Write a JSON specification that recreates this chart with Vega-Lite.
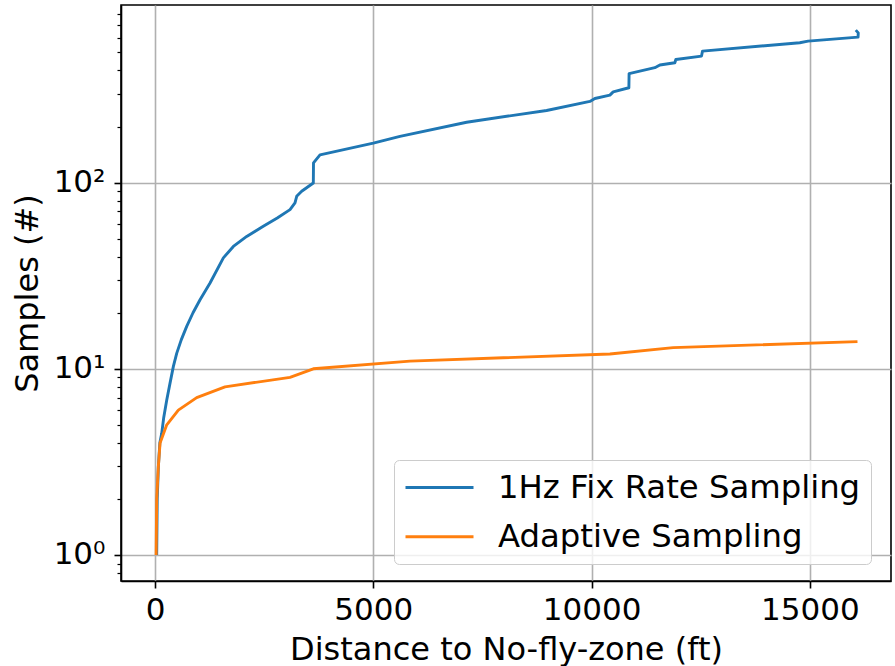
{
  "$schema": "https://vega.github.io/schema/vega-lite/v6.json",
  "width": 770,
  "height": 576,
  "autosize": {"type": "none"},
  "padding": {"left": 121, "top": 5, "right": 4, "bottom": 85},
  "background": "white",
  "config": {
    "font": "DejaVu Sans",
    "view": {"stroke": "black", "strokeWidth": 1.6},
    "axis": {
      "labelFont": "DejaVu Sans",
      "titleFont": "DejaVu Sans",
      "labelColor": "black",
      "titleColor": "black",
      "titleFontWeight": "normal",
      "domainColor": "black",
      "domainWidth": 1.6,
      "tickColor": "black",
      "gridColor": "#b0b0b0",
      "gridWidth": 1.6
    }
  },
  "data": {
    "values": [
      {"method": "1Hz Fix Rate Sampling", "distance": 38, "samples": 1},
      {"method": "1Hz Fix Rate Sampling", "distance": 50, "samples": 2},
      {"method": "1Hz Fix Rate Sampling", "distance": 76, "samples": 2.98},
      {"method": "1Hz Fix Rate Sampling", "distance": 110, "samples": 4},
      {"method": "1Hz Fix Rate Sampling", "distance": 153, "samples": 4.5},
      {"method": "1Hz Fix Rate Sampling", "distance": 200, "samples": 5.5},
      {"method": "1Hz Fix Rate Sampling", "distance": 268, "samples": 6.8},
      {"method": "1Hz Fix Rate Sampling", "distance": 340, "samples": 8.3},
      {"method": "1Hz Fix Rate Sampling", "distance": 420, "samples": 10.3},
      {"method": "1Hz Fix Rate Sampling", "distance": 496, "samples": 12.1},
      {"method": "1Hz Fix Rate Sampling", "distance": 600, "samples": 14.3},
      {"method": "1Hz Fix Rate Sampling", "distance": 725, "samples": 16.9},
      {"method": "1Hz Fix Rate Sampling", "distance": 870, "samples": 20},
      {"method": "1Hz Fix Rate Sampling", "distance": 1031, "samples": 23.5},
      {"method": "1Hz Fix Rate Sampling", "distance": 1260, "samples": 28.9},
      {"method": "1Hz Fix Rate Sampling", "distance": 1565, "samples": 39.4},
      {"method": "1Hz Fix Rate Sampling", "distance": 1794, "samples": 45.4},
      {"method": "1Hz Fix Rate Sampling", "distance": 2100, "samples": 51.4},
      {"method": "1Hz Fix Rate Sampling", "distance": 2480, "samples": 58.2},
      {"method": "1Hz Fix Rate Sampling", "distance": 2800, "samples": 64.5},
      {"method": "1Hz Fix Rate Sampling", "distance": 3092, "samples": 71.6},
      {"method": "1Hz Fix Rate Sampling", "distance": 3206, "samples": 77.8},
      {"method": "1Hz Fix Rate Sampling", "distance": 3245, "samples": 84.4},
      {"method": "1Hz Fix Rate Sampling", "distance": 3359, "samples": 89.8},
      {"method": "1Hz Fix Rate Sampling", "distance": 3626, "samples": 99.5},
      {"method": "1Hz Fix Rate Sampling", "distance": 3630, "samples": 127.6},
      {"method": "1Hz Fix Rate Sampling", "distance": 3779, "samples": 141},
      {"method": "1Hz Fix Rate Sampling", "distance": 5000, "samples": 163},
      {"method": "1Hz Fix Rate Sampling", "distance": 5611, "samples": 177},
      {"method": "1Hz Fix Rate Sampling", "distance": 7138, "samples": 211},
      {"method": "1Hz Fix Rate Sampling", "distance": 8970, "samples": 244},
      {"method": "1Hz Fix Rate Sampling", "distance": 9962, "samples": 273},
      {"method": "1Hz Fix Rate Sampling", "distance": 10076, "samples": 283},
      {"method": "1Hz Fix Rate Sampling", "distance": 10420, "samples": 295},
      {"method": "1Hz Fix Rate Sampling", "distance": 10496, "samples": 307},
      {"method": "1Hz Fix Rate Sampling", "distance": 10855, "samples": 323},
      {"method": "1Hz Fix Rate Sampling", "distance": 10860, "samples": 385},
      {"method": "1Hz Fix Rate Sampling", "distance": 11450, "samples": 414},
      {"method": "1Hz Fix Rate Sampling", "distance": 11565, "samples": 428},
      {"method": "1Hz Fix Rate Sampling", "distance": 11908, "samples": 440},
      {"method": "1Hz Fix Rate Sampling", "distance": 11931, "samples": 458},
      {"method": "1Hz Fix Rate Sampling", "distance": 12519, "samples": 478},
      {"method": "1Hz Fix Rate Sampling", "distance": 12542, "samples": 508},
      {"method": "1Hz Fix Rate Sampling", "distance": 14770, "samples": 564},
      {"method": "1Hz Fix Rate Sampling", "distance": 14960, "samples": 575},
      {"method": "1Hz Fix Rate Sampling", "distance": 16105, "samples": 604},
      {"method": "1Hz Fix Rate Sampling", "distance": 16110, "samples": 637},
      {"method": "1Hz Fix Rate Sampling", "distance": 16053, "samples": 659},
      {"method": "Adaptive Sampling", "distance": 25, "samples": 1},
      {"method": "Adaptive Sampling", "distance": 38, "samples": 2},
      {"method": "Adaptive Sampling", "distance": 76, "samples": 3},
      {"method": "Adaptive Sampling", "distance": 115, "samples": 4},
      {"method": "Adaptive Sampling", "distance": 268, "samples": 5},
      {"method": "Adaptive Sampling", "distance": 534, "samples": 6},
      {"method": "Adaptive Sampling", "distance": 954, "samples": 7},
      {"method": "Adaptive Sampling", "distance": 1603, "samples": 8},
      {"method": "Adaptive Sampling", "distance": 3092, "samples": 9},
      {"method": "Adaptive Sampling", "distance": 3626, "samples": 10},
      {"method": "Adaptive Sampling", "distance": 5840, "samples": 11},
      {"method": "Adaptive Sampling", "distance": 10420, "samples": 12},
      {"method": "Adaptive Sampling", "distance": 11870, "samples": 13},
      {"method": "Adaptive Sampling", "distance": 16092, "samples": 14}
    ]
  },
  "mark": {"type": "line", "strokeWidth": 2.9, "strokeJoin": "round", "clip": true},
  "encoding": {
    "x": {
      "field": "distance",
      "type": "quantitative",
      "scale": {"domain": [-780, 16860], "nice": false, "zero": false},
      "axis": {
        "values": [0, 5000, 10000, 15000],
        "format": "d",
        "labelFontSize": 31,
        "tickSize": 7,
        "tickWidth": 1.6,
        "labelPadding": 7,
        "title": "Distance to No-fly-zone (ft)",
        "titleFontSize": 32,
        "titlePadding": 9
      }
    },
    "y": {
      "field": "samples",
      "type": "quantitative",
      "scale": {"type": "log", "domain": [0.725, 899], "nice": false},
      "axis": {
        "values": [0.8, 0.9, 1, 2, 3, 4, 5, 6, 7, 8, 9, 10, 20, 30, 40, 50, 60, 70, 80, 90, 100, 200, 300, 400, 500, 600, 700, 800],
        "labelExpr": "datum.value == 1 ? '10⁰' : datum.value == 10 ? '10¹' : datum.value == 100 ? '10²' : ''",
        "labelFontSize": 31,
        "labelPadding": 9,
        "tickSize": {"condition": {"test": "datum.value == 1 || datum.value == 10 || datum.value == 100", "value": 7}, "value": 4},
        "tickWidth": {"condition": {"test": "datum.value == 1 || datum.value == 10 || datum.value == 100", "value": 1.6}, "value": 1.2},
        "gridOpacity": {"condition": {"test": "datum.value == 1 || datum.value == 10 || datum.value == 100", "value": 1}, "value": 0},
        "title": "Samples (#)",
        "titleFontSize": 32,
        "titlePadding": 9
      }
    },
    "color": {
      "field": "method",
      "type": "nominal",
      "scale": {"domain": ["1Hz Fix Rate Sampling", "Adaptive Sampling"], "range": ["#1f77b4", "#ff7f0e"]},
      "legend": {
        "title": null,
        "orient": "none",
        "legendX": 273,
        "legendY": 455,
        "fillColor": "rgba(255,255,255,0.8)",
        "strokeColor": "#cccccc",
        "cornerRadius": 5,
        "padding": 10,
        "labelFont": "DejaVu Sans",
        "labelFontSize": 32.3,
        "labelColor": "black",
        "labelLimit": 0,
        "labelOffset": 59,
        "symbolType": "M-1,0H3.25",
        "symbolSize": 1024,
        "symbolStrokeWidth": 2.9,
        "rowPadding": 15.3
      }
    },
    "order": {"field": "samples", "type": "quantitative"}
  }
}
